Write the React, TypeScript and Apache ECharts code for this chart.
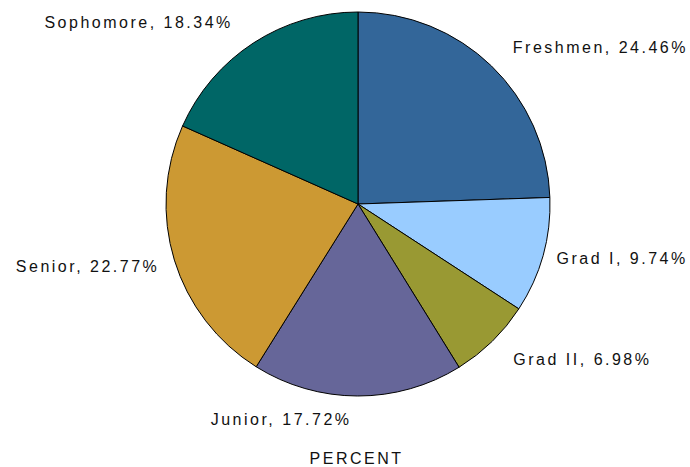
import React, { useEffect, useRef } from "react";
import * as echarts from "echarts";

const categories = ["Freshmen", "Grad I", "Grad II", "Junior", "Senior", "Sophomore"];
const percents = [24.46, 9.74, 6.98, 17.72, 22.77, 18.34];
const colors = ["#336699", "#99CCFF", "#999933", "#666699", "#CC9933", "#006666"];
const axisTitle = "PERCENT";

// label placement tuning (line length, distance to line) per slice
const labelLineLengths = [25, 12, 26, 24, 22, 25];
const labelDistances = [4, 2, 3, 6, -6, 7];

export default function App() {
  const ref = useRef<HTMLDivElement>(null);
  useEffect(() => {
    if (!ref.current) return;
    const chart = echarts.init(ref.current, null, { renderer: "svg" });
    chart.setOption({
      animation: false,
      backgroundColor: "#ffffff",
      graphic: [
        {
          type: "text",
          x: 356.5,
          y: 458,
          style: {
            text: axisTitle,
            fill: "#111111",
            font: '16px "Liberation Sans"',
            textAlign: "center",
            textVerticalAlign: "middle",
          },
        },
      ],
      series: [
        {
          type: "pie",
          center: [358, 204],
          radius: 192,
          startAngle: 90,
          clockwise: true,
          avoidLabelOverlap: false,
          itemStyle: { borderColor: "#000000", borderWidth: 1 },
          label: {
            show: true,
            position: "outside",
            alignTo: "none",
            overflow: "none",
            bleedMargin: 0,
            formatter: "{b}, {c}%",
            color: "#111111",
            fontFamily: "Liberation Sans",
            fontSize: 16,
          },
          labelLine: { show: false, length2: 0 },
          emphasis: { disabled: true },
          data: categories.map((name, i) => ({
            name,
            value: percents[i],
            itemStyle: { color: colors[i] },
            label: { distanceToLabelLine: labelDistances[i] },
            labelLine: { show: false, length: labelLineLengths[i], length2: 0 },
          })),
        },
      ],
    });
    return () => chart.dispose();
  }, []);
  return (
    <div
      ref={ref}
      style={{
        position: "absolute",
        left: 0,
        top: 0,
        width: 690,
        height: 467,
        letterSpacing: "2.5px",
      }}
    />
  );
}
